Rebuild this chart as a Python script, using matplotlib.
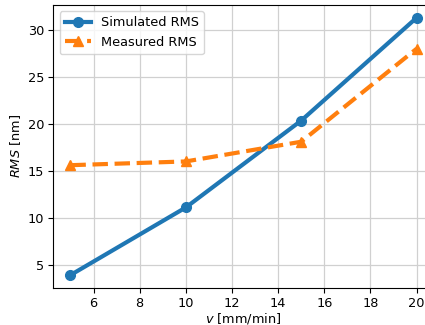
import matplotlib

matplotlib.use("Agg")
import matplotlib.pyplot as plt

# Data
speed = [5, 10, 15, 20]
simulated_rms = [3.9, 11.1, 20.35, 31.3]
measured_rms = [15.6, 16.0, 18.1, 28.0]

fig = plt.figure(figsize=(4.25, 3.25), dpi=100)
ax = fig.add_axes([0.125, 0.114, 0.896, 0.871])

ax.plot(speed, simulated_rms, "-o", color="#1f77b4", lw=3, ms=7,
        label="Simulated RMS")
ax.plot(speed, measured_rms, "--^", color="#ff7f0e", lw=3, ms=7,
        label="Measured RMS")

ax.grid(True, color="#d0d0d0", lw=0.9)
ax.set_xlabel("$v$ [mm/min]", fontsize=9.3, labelpad=1)
ax.set_ylabel("$RMS$ [nm]", fontsize=9.3, labelpad=3)
ax.tick_params(labelsize=9.3, pad=3)
ax.legend(loc="upper left", fontsize=9.3)

fig.savefig("out.png", dpi=100)
